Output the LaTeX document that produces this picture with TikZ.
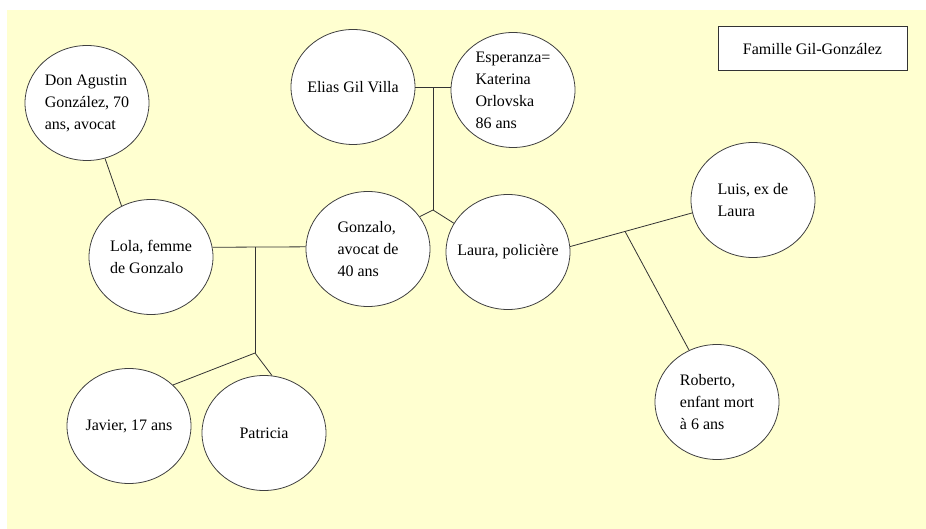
\documentclass[tikz,border=0pt]{standalone}
\usepackage{fontspec}
\setmainfont{Liberation Serif}
\usetikzlibrary{shapes.geometric,calc}
\definecolor{paper}{RGB}{255,255,208}

\begin{document}
\begin{tikzpicture}[x=1pt, y=-1pt,
    person/.style={ellipse, draw=black!75, fill=white, line width=0.8pt,
        minimum width=124pt, minimum height=115pt, inner sep=-8pt,
        align=left, font=\fontsize{16}{22}\selectfont},
    link/.style={draw=black!80, line width=0.8pt}]
    % Background
    \useasboundingbox (0,0) rectangle (926,529);
    \fill[paper] (7,10) rectangle (926,529);

    % Title box
    \node[draw=black!80, line width=1pt, fill=white, minimum width=189pt,
        minimum height=44pt, font=\fontsize{16}{22}\selectfont]
        (title) at (812.5,49) {Famille Gil-González};

    % Grandparents
    \node[person] (agustin) at (87,103) {Don Agustin\\González, 70\\ans, avocat};
    \node[person] (elias) at (353,87) {Elias Gil Villa};
    \node[person] (esperanza) at (513,90) {Esperanza=\\Katerina\\Orlovska\\86 ans};

    % Middle generation
    \node[person] (lola) at (151,257) {Lola, femme\\de Gonzalo};
    \node[person] (gonzalo) at (368,249) {Gonzalo,\\avocat de\\40 ans};
    \node[person] (laura) at (508,252) {Laura, policière};
    \node[person] (luis) at (753,200) {Luis, ex de\\Laura};

    % Children
    \node[person] (javier) at (129,426) {Javier, 17 ans};
    \node[person] (patricia) at (264,433) {Patricia};
    \node[person] (roberto) at (717,402) {Roberto,\\enfant mort\\à 6 ans};

    % Elias + Esperanza
    \draw[link] (elias.east) -- (elias.east -| esperanza.west);
    \coordinate (eliasesp) at (433,88);
    \coordinate (eliaspkids) at (433,210);
    \draw[link] (eliasesp) -- (eliaspkids);
    \draw[link] (eliaspkids) -- (gonzalo.32);
    \draw[link] (eliaspkids) -- (laura.152);

    % Agustin -> Lola
    \draw[link] (agustin.288) -- (lola.120);

    % Lola + Gonzalo
    \draw[link] (lola.9) -- (gonzalo.178);
    \coordinate (lolagon) at (255,247);
    \coordinate (lolagonkids) at (255,353);
    \draw[link] (lolagon) -- (lolagonkids);
    \draw[link] (lolagonkids) -- (javier.43);
    \draw[link] (lolagonkids) -- (patricia.82);

    % Laura + Luis
    \draw[link] (laura.5) -- (luis.192);
    \coordinate (lauraluis) at ($(laura.5)!0.45!(luis.192)$);
    \draw[link] (lauraluis) -- (roberto);
\end{tikzpicture}
\end{document}
